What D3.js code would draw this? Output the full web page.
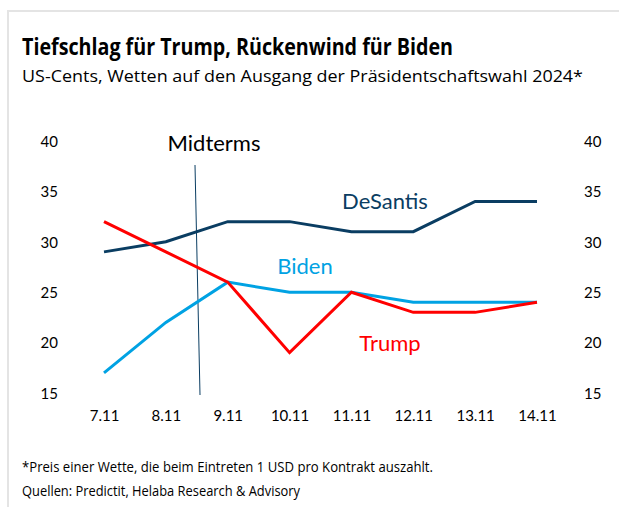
<!DOCTYPE html>
<html>
<head>
<meta charset="utf-8">
<script src="https://cdn.jsdelivr.net/npm/d3@7"></script>
<style>
  html, body { margin: 0; background: #fff; overflow: hidden; }
  svg { display: block; }
</style>
</head>
<body>
<svg id="chart" width="619" height="507"></svg>
<script>
// data
var days = ["7.11", "8.11", "9.11", "10.11", "11.11", "12.11", "13.11", "14.11"];
var desantis = [29, 30, 32, 32, 31, 31, 34, 34];
var biden = [17, 22, 26, 25, 25, 24, 24, 24];
var trump = [32, 29, 26, 19, 25, 23, 23, 24];
var yTicks = [15, 20, 25, 30, 35, 40];

var series = [
    { name: "DeSantis", values: desantis, color: "#0a3d62", lx: 385, ly: 201 },
    { name: "Biden", values: biden, color: "#00a2e3", lx: 305, ly: 266 },
    { name: "Trump", values: trump, color: "#ff0000", lx: 390, ly: 343 }
];

var svg = d3.select("#chart");
var axisFont = "Lato, 'Open Sans', sans-serif";

// frame (left and top edges only)
svg.append("path")
    .attr("d", "M8,507 V11 H619")
    .attr("fill", "none")
    .attr("stroke", "#e4e4e4")
    .attr("stroke-width", 2);

// title and subtitle
svg.append("text")
    .attr("x", 22).attr("y", 55)
    .attr("font-family", "'Open Sans', sans-serif")
    .attr("font-weight", "bold")
    .attr("font-size", 24)
    .attr("textLength", 431).attr("lengthAdjust", "spacingAndGlyphs")
    .attr("fill", "#000")
    .text("Tiefschlag für Trump, Rückenwind für Biden");
svg.append("text")
    .attr("x", 22).attr("y", 82)
    .attr("font-family", "'Open Sans', sans-serif")
    .attr("font-size", 17)
    .attr("textLength", 561).attr("lengthAdjust", "spacingAndGlyphs")
    .attr("fill", "#000")
    .text("US-Cents, Wetten auf den Ausgang der Präsidentschaftswahl 2024*");

// scales
var x = d3.scalePoint().domain(days).range([104, 537]);
var y = d3.scaleLinear().domain([15, 40]).range([393, 141]);

// y axes on both sides, labels only
var leftAxis = svg.append("g").attr("transform", "translate(58,0)")
    .call(d3.axisLeft(y).tickValues(yTicks).tickSize(0).tickPadding(0));
var rightAxis = svg.append("g").attr("transform", "translate(584,0)")
    .call(d3.axisRight(y).tickValues(yTicks).tickSize(0).tickPadding(0));
var bottomAxis = svg.append("g").attr("transform", "translate(0,407)")
    .call(d3.axisBottom(x).tickSize(0).tickPadding(0));

[leftAxis, rightAxis, bottomAxis].forEach(function (g) {
    g.select(".domain").remove();
    g.selectAll("text")
        .attr("font-family", axisFont)
        .attr("font-size", 15)
        .attr("fill", "#000");
});
leftAxis.selectAll("text").attr("dy", "0.35em");
rightAxis.selectAll("text").attr("dy", "0.35em");
bottomAxis.selectAll("text").attr("dy", "0.9em");

// midterms marker
svg.append("line")
    .attr("x1", 195).attr("y1", 165)
    .attr("x2", 200).attr("y2", 395)
    .attr("stroke", "#0a3d62")
    .attr("stroke-width", 1);
svg.append("text")
    .attr("x", 214).attr("y", 151)
    .attr("text-anchor", "middle")
    .attr("font-family", axisFont)
    .attr("font-size", 22)
    .attr("fill", "#000")
    .text("Midterms");

// lines
var line = d3.line()
    .x(function (d, i) { return x(days[i]); })
    .y(function (d) { return y(d); });

var g = svg.selectAll(".series")
    .data(series)
    .join("g")
    .attr("class", "series");

g.append("path")
    .attr("d", function (d) { return line(d.values); })
    .attr("fill", "none")
    .attr("stroke", function (d) { return d.color; })
    .attr("stroke-width", 3)
    .attr("stroke-linejoin", "miter");

g.append("text")
    .attr("x", function (d) { return d.lx; })
    .attr("y", function (d) { return d.ly + 8; })
    .attr("text-anchor", "middle")
    .attr("font-family", axisFont)
    .attr("font-size", 22)
    .attr("fill", function (d) { return d.color; })
    .text(function (d) { return d.name; });

// footnotes
svg.append("text")
    .attr("x", 22).attr("y", 472)
    .attr("font-family", "'Open Sans', sans-serif")
    .attr("font-size", 14)
    .attr("textLength", 411).attr("lengthAdjust", "spacingAndGlyphs")
    .attr("fill", "#000")
    .text("*Preis einer Wette, die beim Eintreten 1 USD pro Kontrakt auszahlt.");
svg.append("text")
    .attr("x", 22).attr("y", 496)
    .attr("font-family", "'Open Sans', sans-serif")
    .attr("font-size", 14)
    .attr("textLength", 278).attr("lengthAdjust", "spacingAndGlyphs")
    .attr("fill", "#000")
    .text("Quellen: Predictit, Helaba Research & Advisory");
</script>
</body>
</html>
